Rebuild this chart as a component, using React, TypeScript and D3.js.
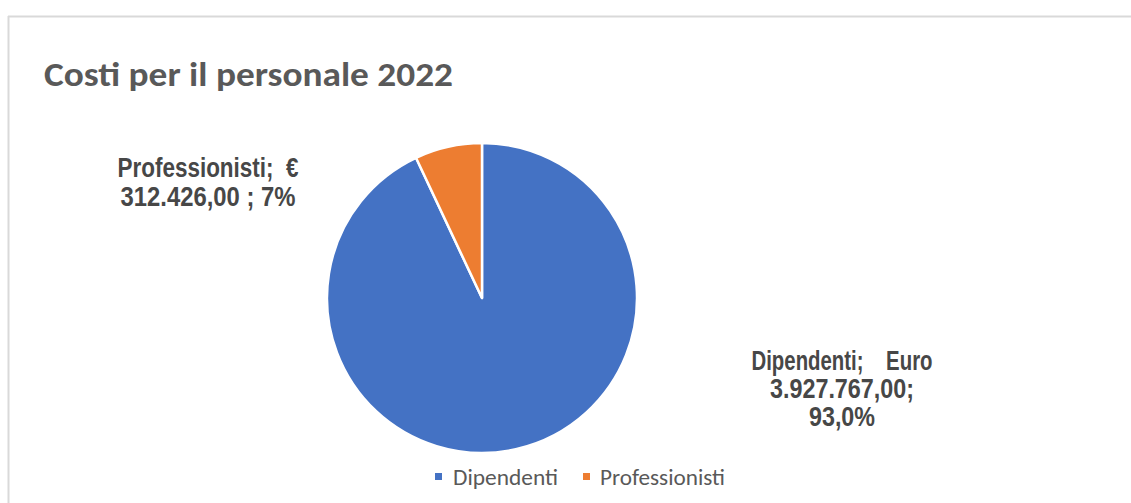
import React from "react";
import * as d3 from "d3";

const title = "Costi per il personale 2022";
const categories = ["Dipendenti", "Professionisti"];
const amounts = [3927767, 312426];
const shares = [93, 7];
const pctLabels = ["93,0%", "7%"];
const currencyWords = ["Euro", "€"];
const colors = ["#4472C4", "#ED7D31"];

const it = d3.formatLocale({ decimal: ",", thousands: ".", grouping: [3], currency: ["€", ""] });
const fmt = it.format(",.2f");

const W = 1131;
const H = 503;

export default function App() {
  const cx = 482;
  const cy = 298;
  const r = 155;
  const pie = d3.pie<number>().sort(null).startAngle(0).endAngle(2 * Math.PI);
  const arcs = pie(shares);
  const arc = d3.arc<d3.PieArcDatum<number>>().innerRadius(0).outerRadius(r);

  const depLines = [
    `${categories[0]};    ${currencyWords[0]}`,
    `${fmt(amounts[0])};`,
    pctLabels[0],
  ];
  const depWidths = [181, 144, 66];
  const proLines = [
    `${categories[1]};  ${currencyWords[1]}`,
    `${fmt(amounts[1])} ; ${pctLabels[1]}`,
  ];
  const proWidths = [181, 175];

  const labelFont = "'Liberation Sans Narrow', 'Arial Narrow', 'Liberation Sans', Arial, sans-serif";
  const uiFont = "Carlito, Calibri, 'Open Sans', 'Noto Sans', sans-serif";

  const legendItems = [
    { x: 435, tx: 453, tw: 105 },
    { x: 583, tx: 600, tw: 125 },
  ];

  return (
    <svg
      width={W}
      height={H}
      style={{ position: "absolute", left: 0, top: 0, background: "#fff" }}
    >
      <rect x={0} y={0} width={W} height={H} fill="#fff" />
      <line x1={8} y1={16.5} x2={W} y2={16.5} stroke="#d9d9d9" strokeWidth={2} />
      <line x1={8.5} y1={16} x2={8.5} y2={H} stroke="#d9d9d9" strokeWidth={2} />

      <text
        x={44}
        y={86}
        fontFamily={uiFont}
        fontSize={34}
        fontWeight={600}
        fill="#595959"
        textLength={409}
        lengthAdjust="spacingAndGlyphs"
      >
        {title}
      </text>

      <g transform={`translate(${cx},${cy})`}>
        {arcs.map((a, i) => (
          <path
            key={categories[i]}
            d={arc(a) || ""}
            fill={colors[i]}
            stroke="#fff"
            strokeWidth={2.5}
            strokeLinejoin="round"
          />
        ))}
      </g>

      {proLines.map((t, i) => (
        <text
          key={"p" + i}
          x={208}
          y={177 + i * 29}
          textAnchor="middle"
          fontFamily={labelFont}
          fontSize={27}
          fontWeight={700}
          fill="#474747"
          textLength={proWidths[i]}
          lengthAdjust="spacingAndGlyphs"
          style={{ whiteSpace: "pre" }}
        >
          {t}
        </text>
      ))}

      {depLines.map((t, i) => (
        <text
          key={"d" + i}
          x={842}
          y={370 + i * 28}
          textAnchor="middle"
          fontFamily={labelFont}
          fontSize={27}
          fontWeight={700}
          fill="#474747"
          textLength={depWidths[i]}
          lengthAdjust="spacingAndGlyphs"
          style={{ whiteSpace: "pre" }}
        >
          {t}
        </text>
      ))}

      {categories.map((c, i) => (
        <g key={"lg" + c}>
          <rect x={legendItems[i].x} y={473} width={7} height={7} fill={colors[i]} />
          <text
            x={legendItems[i].tx}
            y={485}
            fontFamily={uiFont}
            fontSize={22}
            fill="#595959"
            textLength={legendItems[i].tw}
            lengthAdjust="spacingAndGlyphs"
          >
            {c}
          </text>
        </g>
      ))}
    </svg>
  );
}
